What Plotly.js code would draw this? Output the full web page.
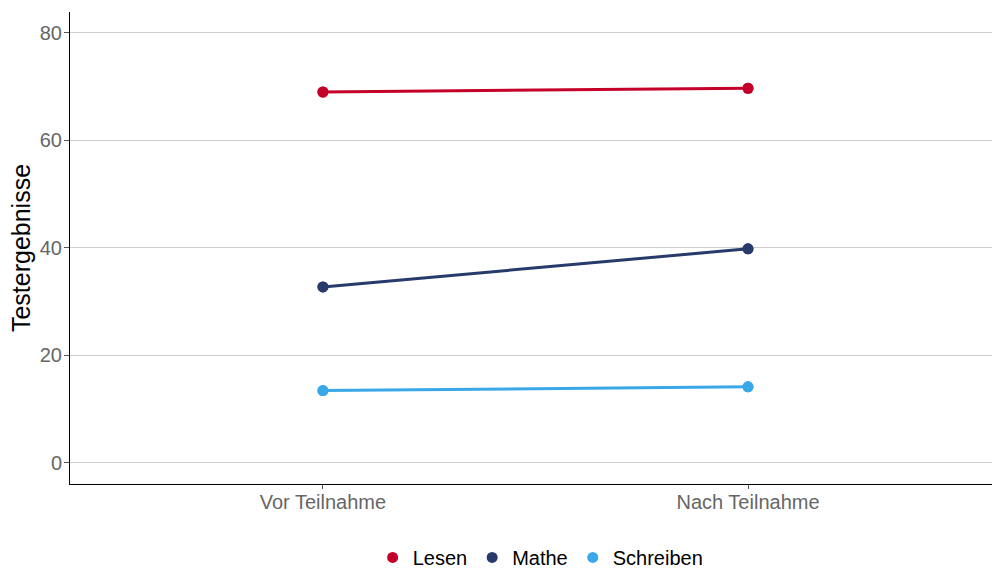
<!DOCTYPE html>
<html><head><meta charset="utf-8">
<script src="https://cdn.plot.ly/plotly-3.0.1.min.js"></script>
<style>body{margin:0;padding:0;background:#fff}#chart{width:992px;height:570px}</style>
</head><body><div id="chart"></div>
<script>
const categories = ["Vor Teilnahme", "Nach Teilnahme"];
const seriesNames = ["Lesen", "Mathe", "Schreiben"];
const lesen = [69.0, 69.7];
const mathe = [32.7, 39.8];
const schreiben = [13.4, 14.1];
const colors = ["#C4002A", "#273A6B", "#3AA8E8"];
const values = [lesen, mathe, schreiben];

const traces = [];
seriesNames.forEach((n, i) => {
  traces.push({
    type: "scatter", mode: "lines+markers", name: n, legendgroup: n, showlegend: false,
    x: categories, y: values[i],
    line: {color: colors[i], width: 3},
    marker: {color: colors[i], size: 11}
  });
});
seriesNames.forEach((n, i) => {
  traces.push({
    type: "scatter", mode: "markers", name: n, legendgroup: n, showlegend: true,
    x: categories, y: values[i],
    marker: {color: colors[i], size: 11}
  });
});

const layout = {
  width: 992, height: 570,
  margin: {l: 70, r: 0, t: 12, b: 86},
  paper_bgcolor: "#fff", plot_bgcolor: "#fff",
  font: {family: "'Liberation Sans', Arial, sans-serif"},
  xaxis: {
    type: "category", range: [-0.595, 1.574],
    showline: true, linecolor: "#000", linewidth: 1,
    showgrid: false, zeroline: false,
    ticks: "outside", ticklen: 4, tickcolor: "#555",
    ticklabelstandoff: -4,
    tickfont: {size: 20, color: "#666"}
  },
  yaxis: {
    range: [-4.0, 83.9], tickvals: [0, 20, 40, 60, 80],
    showline: true, linecolor: "#000", linewidth: 1,
    showgrid: true, gridcolor: "#cfcfcf", gridwidth: 1, zeroline: false,
    ticks: "outside", ticklen: 5, tickcolor: "#555",
    ticklabelstandoff: -2,
    tickfont: {size: 20, color: "#666"},
    title: {text: "Testergebnisse", font: {size: 25, color: "#000"}, standoff: 2}
  },
  showlegend: true,
  legend: {orientation: "h", x: 0.545, xanchor: "center", xref: "container",
    y: 0.022, yanchor: "middle", yref: "container",
    font: {size: 20, color: "#000"}, itemwidth: 30}
};
Plotly.newPlot("chart", traces, layout, {displayModeBar: false, staticPlot: true});
</script></body></html>
